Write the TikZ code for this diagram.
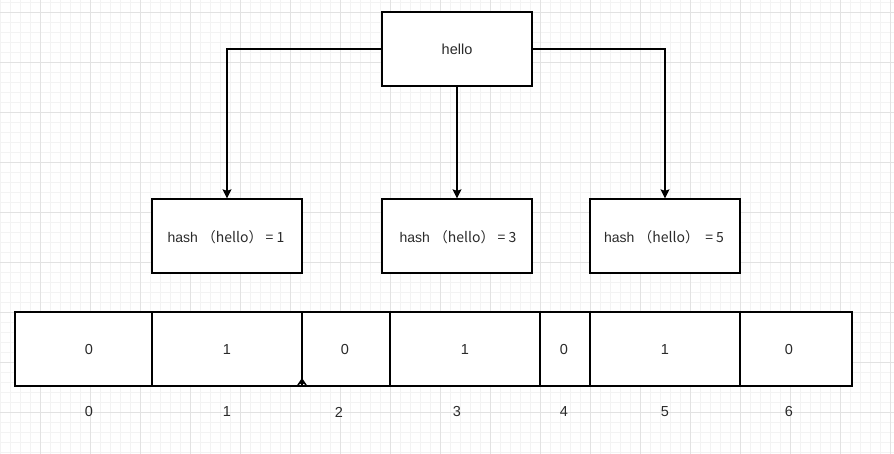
\documentclass[tikz,border=0pt]{standalone}
\usepackage{fontspec}
\setmainfont{Liberation Sans}
\newfontfamily\cjk{Noto Sans CJK SC}
\usetikzlibrary{arrows.meta}
\definecolor{gminor}{HTML}{F3F3F3}
\definecolor{gmajor}{HTML}{E2E2E2}
\definecolor{txt}{HTML}{2A2A2A}
\tikzset{
  box/.style={draw=black, line width=1.3pt, fill=white, inner sep=0pt, minimum height=74pt},
  lbl/.style={text=txt, font=\fontsize{14.5}{17}\selectfont, inner sep=0pt},
  hlbl/.style={text=txt, font=\fontsize{14}{17}\selectfont, inner sep=0pt},
  arr/.style={draw=black, line width=1.3pt, -{Stealth[length=9pt,width=9pt,inset=1.5pt]}},
}
\begin{document}
\begin{tikzpicture}[x=1pt,y=-1pt]
\useasboundingbox (0,0) rectangle (894,454);
\fill[white] (0,0) rectangle (894,454);
% grid
\foreach \x in {0,10,...,890} \draw[gminor, line width=0.8pt] (\x,0) -- (\x,454);
\foreach \y in {2,12,...,452} \draw[gminor, line width=0.8pt] (0,\y) -- (894,\y);
\foreach \x in {40,90,...,890} \draw[gmajor, line width=0.8pt] (\x,0) -- (\x,454);
\foreach \y in {12,62,...,452} \draw[gmajor, line width=0.8pt] (0,\y) -- (894,\y);
% top node
\node[box, minimum width=150pt] (hello) at (457,49) {};
\node[lbl] (thello) at (457,49) {hello};
% hash nodes
\node[box, minimum width=150pt] (h1) at (227,236) {};
\node[box, minimum width=150pt] (h3) at (457,236) {};
\node[box, minimum width=150pt] (h5) at (665,236) {};
\node[hlbl] (th1) at (226,237) {hash \cjk{（}hello\cjk{）} = 1};
\node[hlbl] (th3) at (458,237) {hash \cjk{（}hello\cjk{）} = 3};
\node[hlbl] (th5) at (664,237) {hash \cjk{（}hello\cjk{）}\ \ = 5};
% arrows
\draw[arr] (hello.west) -| (h1.north);
\draw[arr] (hello.south) -- (h3.north);
\draw[arr] (hello.east) -| (h5.north);
% array cells
\node[box, minimum width=137pt] (c0) at (83.5,349) {};
\node[box, minimum width=150pt] (c1) at (227,349) {};
\node[box, minimum width=88pt] (c2) at (346,349) {};
\node[box, minimum width=150pt] (c3) at (465,349) {};
\node[box, minimum width=50pt] (c4) at (565,349) {};
\node[box, minimum width=150pt] (c5) at (665,349) {};
\node[box, minimum width=112pt] (c6) at (796,349) {};
\node[lbl] (v0) at (89,350) {0};
\node[lbl] (v1) at (227,350) {1};
\node[lbl] (v2) at (345,350) {0};
\node[lbl] (v3) at (465,350) {1};
\node[lbl] (v4) at (564,350) {0};
\node[lbl] (v5) at (665,350) {1};
\node[lbl] (v6) at (789,350) {0};
% index labels
\node[lbl] (i0) at (89,412) {0};
\node[lbl] (i1) at (227,412) {1};
\node[lbl] (i2) at (339,412) {2};
\node[lbl] (i3) at (457,412) {3};
\node[lbl] (i4) at (564,412) {4};
\node[lbl] (i5) at (665,412) {5};
\node[lbl] (i6) at (789,412) {6};
% stray arrow on divider
\coordinate (divtop) at (302,312);
\coordinate (divbot) at (302,386);
\draw[line width=1.6pt, -{Stealth[reversed,length=8pt,width=11pt,inset=3pt]}] (divtop) -- (divbot);
\end{tikzpicture}
\end{document}
